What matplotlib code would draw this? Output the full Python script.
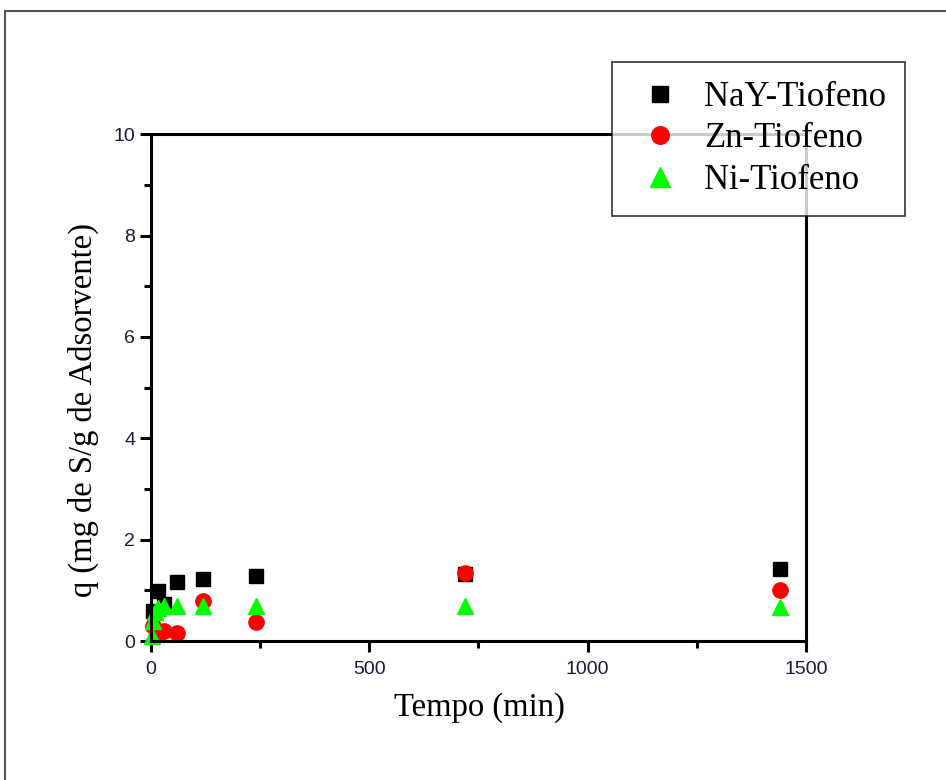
import matplotlib
matplotlib.use('Agg')
import matplotlib.pyplot as plt
from matplotlib.patches import Rectangle
from matplotlib.ticker import MultipleLocator

# dados de adsorcao (tempo em min, q em mg S/g)
t_nay = [5, 15, 30, 60, 120, 240, 720, 1440]
q_nay = [0.60, 0.98, 0.74, 1.16, 1.22, 1.28, 1.33, 1.42]

t_zn = [5, 15, 30, 60, 120, 240, 720, 1440]
q_zn = [0.30, 0.15, 0.20, 0.17, 0.80, 0.37, 1.35, 1.00]

t_ni = [2, 5, 10, 15, 30, 60, 120, 240, 720, 1440]
q_ni = [0.10, 0.40, 0.58, 0.66, 0.70, 0.70, 0.70, 0.70, 0.70, 0.68]

fig = plt.figure(figsize=(9.46, 7.8), dpi=100)
ax = fig.add_axes([0.1596, 0.178, 0.6924, 0.650])

# moldura externa da pagina
fig.patches.append(Rectangle((5 / 946, -0.1), 1.2, 1 - 11 / 780 + 0.1,
                             transform=fig.transFigure, fill=False,
                             edgecolor='#555555', linewidth=1.5))

ax.plot(t_nay, q_nay, 's', color='black', markersize=10, label='NaY-Tiofeno', clip_on=False)
ax.plot(t_zn, q_zn, 'o', color='red', markersize=11, label='Zn-Tiofeno', clip_on=False)
ax.plot(t_ni, q_ni, '^', color='#00ff00', markersize=12, label='Ni-Tiofeno', clip_on=False)

ax.set_xlim(0, 1500)
ax.set_ylim(0, 10)
ax.xaxis.set_major_locator(MultipleLocator(500))
ax.xaxis.set_minor_locator(MultipleLocator(250))
ax.yaxis.set_major_locator(MultipleLocator(2))
ax.yaxis.set_minor_locator(MultipleLocator(1))

for s in ax.spines.values():
    s.set_linewidth(2.2)
ax.tick_params(which='major', direction='out', length=8, width=2.2,
               labelsize=14, top=False, right=False)
ax.tick_params(axis='x', which='major', pad=6)
ax.tick_params(which='minor', direction='out', length=5, width=2.2,
               top=False, right=False)
for lab in ax.get_xticklabels() + ax.get_yticklabels():
    lab.set_family('Liberation Sans')
    lab.set_color('#1a1a3a')

ax.set_xlabel('Tempo (min)', family='Liberation Serif', fontsize=23.5)
ax.set_ylabel('q (mg de S/g de Adsorvente)', family='Liberation Serif', fontsize=23.5)
ax.xaxis.set_label_coords(0.502, -0.100)
ax.yaxis.set_label_coords(-0.080, 0.456)

leg = fig.legend(loc='upper left', bbox_to_anchor=(0.647, 0.921),
                 prop={'family': 'Liberation Serif', 'size': 25},
                 frameon=True, fancybox=False, edgecolor='black',
                 borderpad=0.55, handletextpad=0.45, labelspacing=0.25,
                 handlelength=1.65, borderaxespad=0, markerscale=1.15)
leg.get_frame().set_linewidth(1.2)

fig.savefig('out.png', dpi=100)
